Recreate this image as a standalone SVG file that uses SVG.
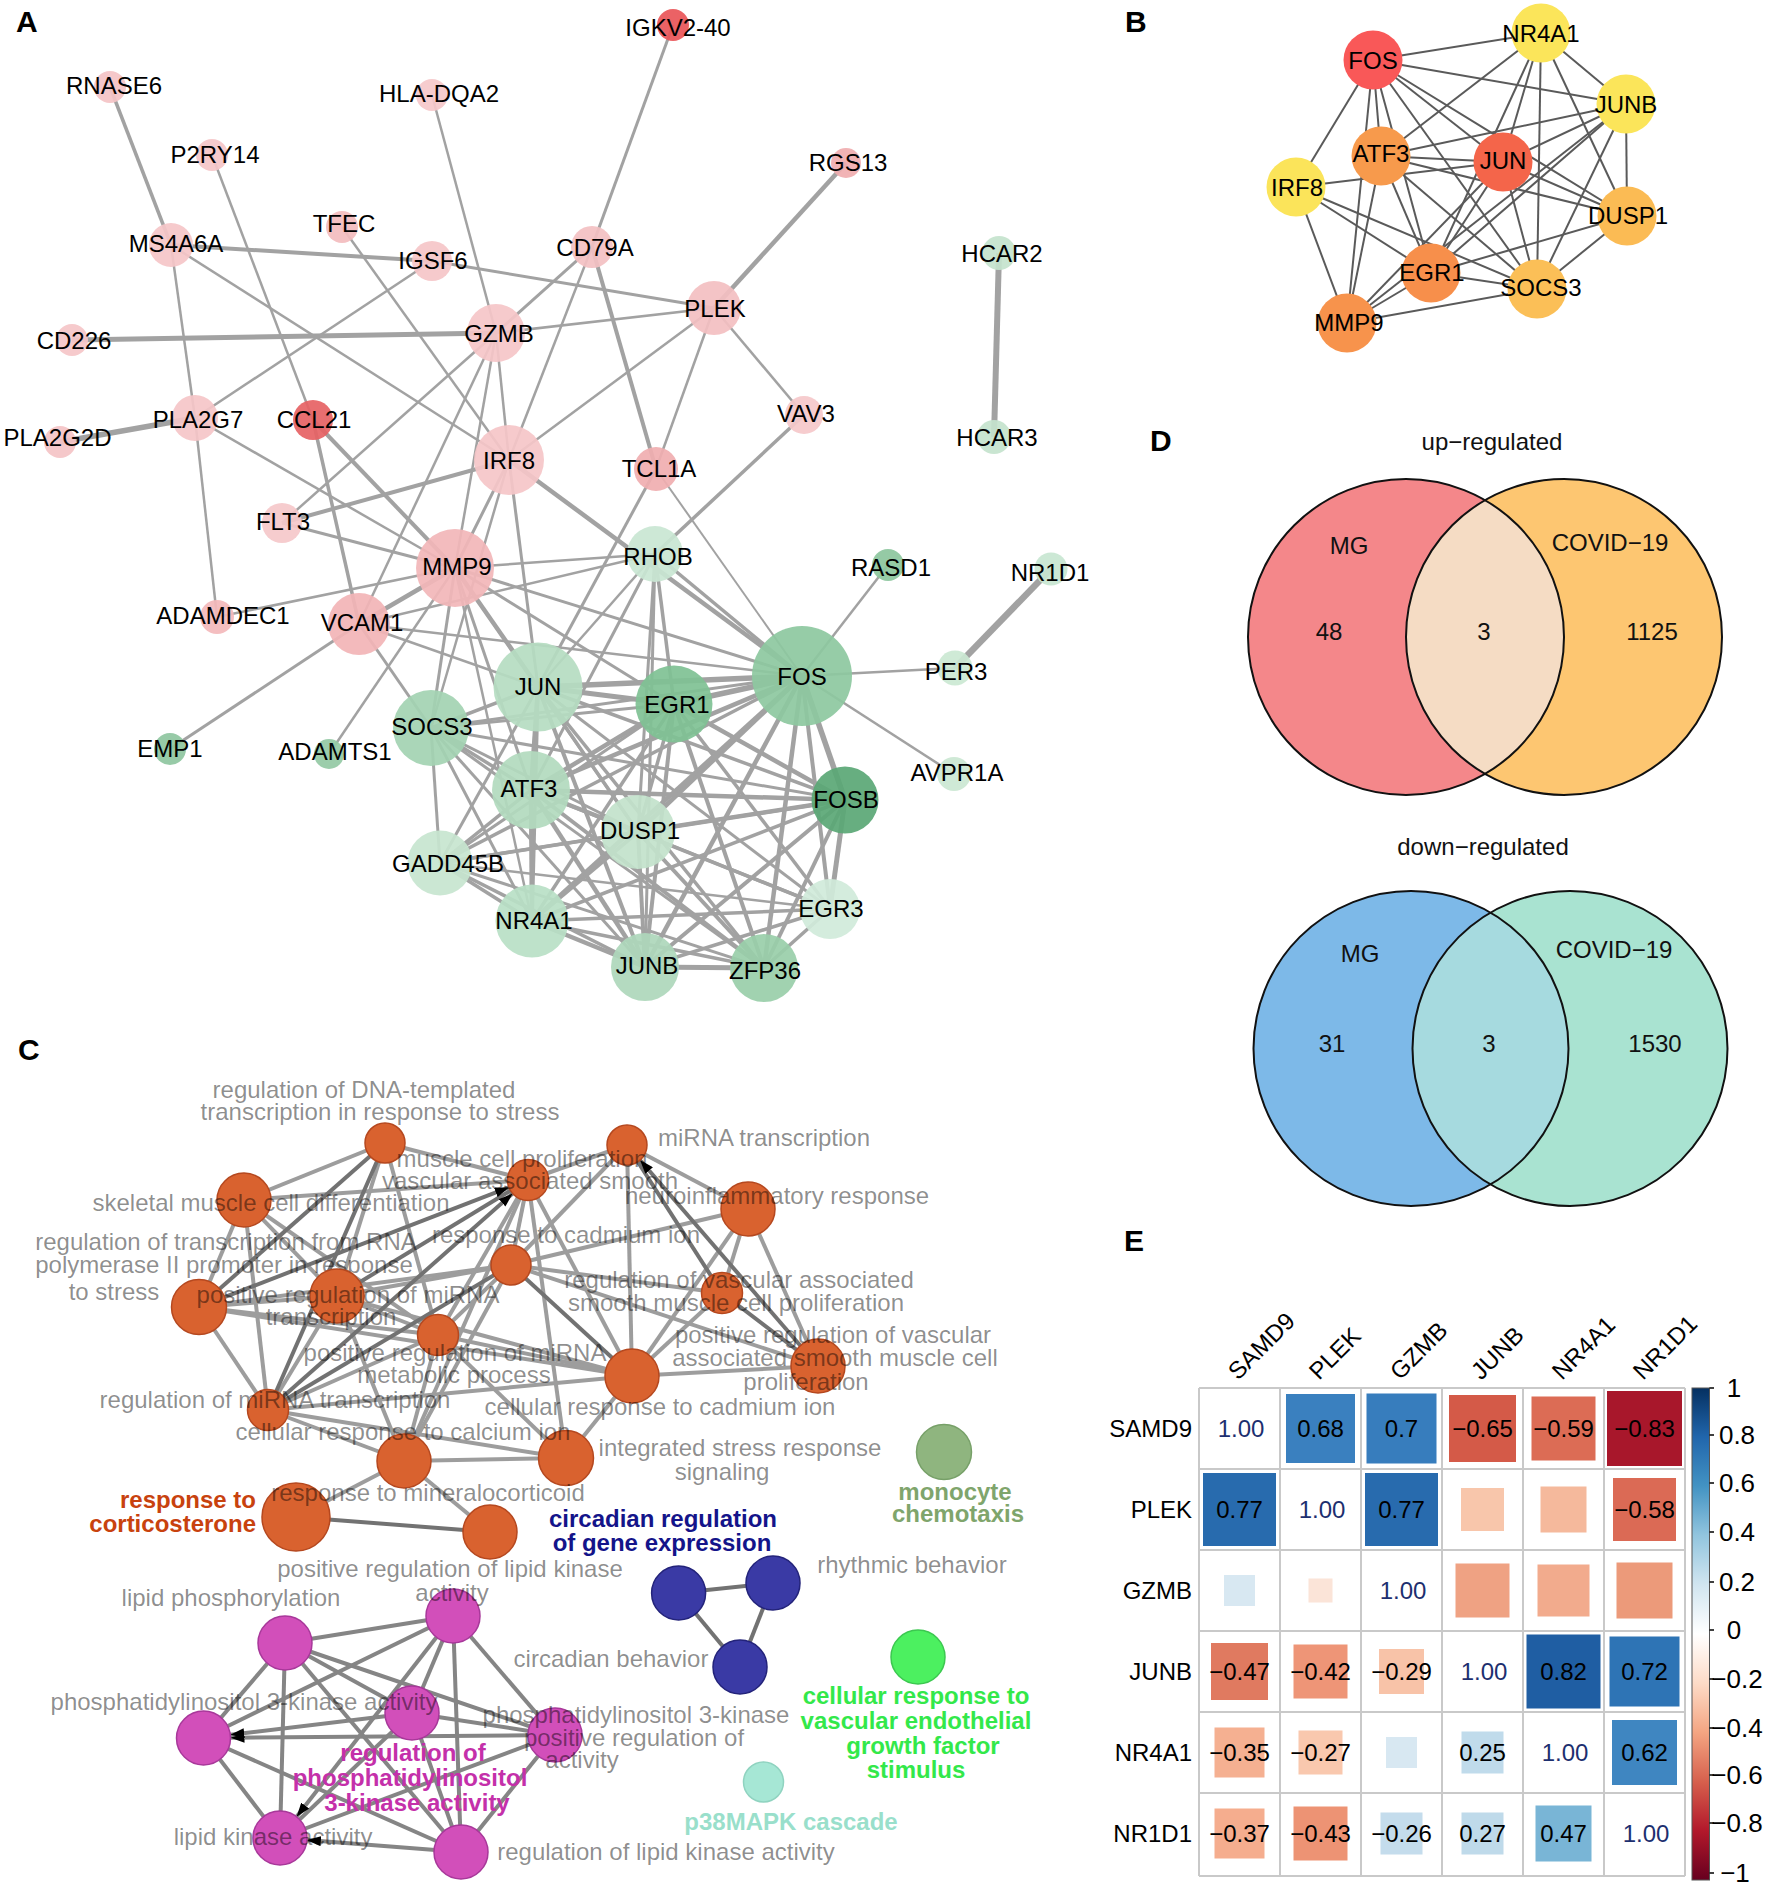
<svg xmlns="http://www.w3.org/2000/svg" width="1768" height="1885" viewBox="0 0 1768 1885">
<defs>
<style>
text{font-family:"Liberation Sans",Arial,Helvetica,sans-serif}
.pl{font-size:30px;font-weight:bold;fill:#000}
.lbl{font-size:24px;fill:#000;text-anchor:middle}
.ea line{stroke:#a2a2a2}
.eb line{stroke:#5a5a5a;stroke-width:2}
.ec line{stroke-width:4}
.ce{stroke:#9d9d9d}
.cd{stroke:#727272}
.cm{stroke:#858585}
.an circle{fill-opacity:0.92}
.cl{font-size:24px;fill:#000;fill-opacity:0.46;text-anchor:middle}
.cb{font-size:24px;font-weight:bold;text-anchor:middle}
.on{fill:#d9622f;stroke:#b5481f;stroke-width:1.5}
.mg{fill:#d24fba;stroke:#a8389a;stroke-width:1.5}
.nv{fill:#3a3aa5;stroke:#23237a;stroke-width:1.5}
.vt{font-size:24px;fill:#111;text-anchor:middle}
.vo{fill:none;stroke:#111;stroke-width:2}
.en{font-size:24px;fill:#000;text-anchor:middle}
.ed{font-size:24px;fill:#1d2f6f;text-anchor:middle}
.rl{font-size:24px;fill:#000;text-anchor:end}
.cll{font-size:24px;fill:#000}
.cbl{font-size:26px;fill:#000;text-anchor:middle}
.grid line{stroke:#c9c9c9;stroke-width:2}
</style>
<marker id="arr" markerUnits="userSpaceOnUse" markerWidth="14" markerHeight="10" refX="14" refY="5" orient="auto"><path d="M0,0 L14,5 L0,10 z" fill="#000"/></marker>
<clipPath id="clipUpR"><circle cx="1564" cy="637" r="158"/></clipPath>
<clipPath id="clipDnR"><circle cx="1570" cy="1048.5" r="157.5"/></clipPath>
<linearGradient id="cbar" x1="0" y1="0" x2="0" y2="1">
<stop offset="0" stop-color="#053061"/>
<stop offset="0.1" stop-color="#2166ac"/>
<stop offset="0.2" stop-color="#4393c3"/>
<stop offset="0.3" stop-color="#92c5de"/>
<stop offset="0.4" stop-color="#d1e5f0"/>
<stop offset="0.5" stop-color="#ffffff"/>
<stop offset="0.6" stop-color="#fddbc7"/>
<stop offset="0.7" stop-color="#f4a582"/>
<stop offset="0.8" stop-color="#d6604d"/>
<stop offset="0.9" stop-color="#b2182b"/>
<stop offset="1" stop-color="#67001f"/>
</linearGradient>
</defs>
<rect width="1768" height="1885" fill="#fff"/>

<text class="pl" x="16" y="32">A</text>
<text class="pl" x="1125" y="32">B</text>
<text class="pl" x="18" y="1060">C</text>
<text class="pl" x="1150" y="451">D</text>
<text class="pl" x="1124" y="1251">E</text>

<g id="connectors">
<g class="ea" id="edges-A">
<line x1="110" y1="87" x2="171" y2="245" stroke-width="3.5"/>
<line x1="212" y1="155" x2="313" y2="420" stroke-width="2.5"/>
<line x1="432" y1="95" x2="496" y2="333" stroke-width="2.5"/>
<line x1="342" y1="227" x2="509" y2="460" stroke-width="2.5"/>
<line x1="171" y1="245" x2="432" y2="261" stroke-width="4"/>
<line x1="432" y1="261" x2="714" y2="308" stroke-width="3"/>
<line x1="171" y1="245" x2="509" y2="460" stroke-width="2.5"/>
<line x1="171" y1="245" x2="195" y2="418" stroke-width="2.5"/>
<line x1="432" y1="261" x2="195" y2="418" stroke-width="2.5"/>
<line x1="72" y1="340" x2="496" y2="333" stroke-width="5"/>
<line x1="496" y1="333" x2="592" y2="247" stroke-width="3"/>
<line x1="496" y1="333" x2="714" y2="308" stroke-width="2.5"/>
<line x1="496" y1="333" x2="509" y2="460" stroke-width="2.5"/>
<line x1="496" y1="333" x2="455" y2="568" stroke-width="2.5"/>
<line x1="496" y1="333" x2="282" y2="523" stroke-width="2.5"/>
<line x1="496" y1="333" x2="359" y2="624" stroke-width="2.5"/>
<line x1="592" y1="247" x2="509" y2="460" stroke-width="2.5"/>
<line x1="592" y1="247" x2="656" y2="469" stroke-width="4"/>
<line x1="673" y1="25" x2="592" y2="247" stroke-width="3"/>
<line x1="714" y1="308" x2="509" y2="460" stroke-width="2.5"/>
<line x1="714" y1="308" x2="656" y2="469" stroke-width="2.5"/>
<line x1="714" y1="308" x2="804" y2="415" stroke-width="2.5"/>
<line x1="846" y1="163" x2="714" y2="308" stroke-width="4.5"/>
<line x1="999" y1="253" x2="994" y2="437" stroke-width="6"/>
<line x1="804" y1="415" x2="655" y2="554" stroke-width="3.5"/>
<line x1="195" y1="418" x2="60" y2="442" stroke-width="5.5"/>
<line x1="195" y1="418" x2="217" y2="617" stroke-width="2.5"/>
<line x1="195" y1="418" x2="455" y2="568" stroke-width="2.5"/>
<line x1="313" y1="420" x2="359" y2="624" stroke-width="3.5"/>
<line x1="313" y1="420" x2="455" y2="568" stroke-width="4"/>
<line x1="282" y1="523" x2="509" y2="460" stroke-width="4"/>
<line x1="282" y1="523" x2="455" y2="568" stroke-width="3"/>
<line x1="217" y1="617" x2="455" y2="568" stroke-width="2.5"/>
<line x1="359" y1="624" x2="455" y2="568" stroke-width="4.5"/>
<line x1="359" y1="624" x2="170" y2="749" stroke-width="3"/>
<line x1="359" y1="624" x2="431" y2="728" stroke-width="3"/>
<line x1="359" y1="624" x2="538" y2="687" stroke-width="2.5"/>
<line x1="359" y1="624" x2="802" y2="676" stroke-width="2.5"/>
<line x1="359" y1="624" x2="655" y2="554" stroke-width="2.5"/>
<line x1="455" y1="568" x2="329" y2="754" stroke-width="2.5"/>
<line x1="509" y1="460" x2="455" y2="568" stroke-width="3"/>
<line x1="509" y1="460" x2="538" y2="687" stroke-width="3"/>
<line x1="509" y1="460" x2="802" y2="676" stroke-width="4.5"/>
<line x1="509" y1="460" x2="431" y2="728" stroke-width="2.5"/>
<line x1="656" y1="469" x2="538" y2="687" stroke-width="3"/>
<line x1="656" y1="469" x2="802" y2="676" stroke-width="2"/>
<line x1="802" y1="676" x2="888" y2="565" stroke-width="2.5"/>
<line x1="802" y1="676" x2="955" y2="668" stroke-width="2.5"/>
<line x1="802" y1="676" x2="954" y2="774" stroke-width="2.5"/>
<line x1="955" y1="668" x2="1051" y2="569" stroke-width="6.5"/>
<line x1="455" y1="568" x2="538" y2="687" stroke-width="4.5"/>
<line x1="455" y1="568" x2="674" y2="704" stroke-width="3"/>
<line x1="455" y1="568" x2="531" y2="790" stroke-width="3"/>
<line x1="455" y1="568" x2="431" y2="728" stroke-width="3"/>
<line x1="455" y1="568" x2="638" y2="832" stroke-width="3"/>
<line x1="455" y1="568" x2="655" y2="554" stroke-width="2.5"/>
<line x1="455" y1="568" x2="802" y2="676" stroke-width="3"/>
<line x1="455" y1="568" x2="532" y2="921" stroke-width="2.5"/>
<line x1="538" y1="687" x2="674" y2="704" stroke-width="5"/>
<line x1="538" y1="687" x2="802" y2="676" stroke-width="5.5"/>
<line x1="538" y1="687" x2="431" y2="728" stroke-width="3.5"/>
<line x1="538" y1="687" x2="531" y2="790" stroke-width="4.5"/>
<line x1="538" y1="687" x2="638" y2="832" stroke-width="3.5"/>
<line x1="538" y1="687" x2="845" y2="800" stroke-width="3.5"/>
<line x1="538" y1="687" x2="440" y2="863" stroke-width="3"/>
<line x1="538" y1="687" x2="532" y2="921" stroke-width="3.5"/>
<line x1="538" y1="687" x2="645" y2="967" stroke-width="4"/>
<line x1="538" y1="687" x2="764" y2="968" stroke-width="3.5"/>
<line x1="538" y1="687" x2="830" y2="909" stroke-width="3"/>
<line x1="538" y1="687" x2="655" y2="554" stroke-width="2.5"/>
<line x1="674" y1="704" x2="802" y2="676" stroke-width="5.5"/>
<line x1="674" y1="704" x2="431" y2="728" stroke-width="3"/>
<line x1="674" y1="704" x2="531" y2="790" stroke-width="4.5"/>
<line x1="674" y1="704" x2="638" y2="832" stroke-width="3.5"/>
<line x1="674" y1="704" x2="845" y2="800" stroke-width="4.5"/>
<line x1="674" y1="704" x2="440" y2="863" stroke-width="3"/>
<line x1="674" y1="704" x2="532" y2="921" stroke-width="3.5"/>
<line x1="674" y1="704" x2="645" y2="967" stroke-width="4"/>
<line x1="674" y1="704" x2="764" y2="968" stroke-width="4"/>
<line x1="674" y1="704" x2="830" y2="909" stroke-width="3.5"/>
<line x1="674" y1="704" x2="655" y2="554" stroke-width="3.5"/>
<line x1="802" y1="676" x2="431" y2="728" stroke-width="3"/>
<line x1="802" y1="676" x2="531" y2="790" stroke-width="4.5"/>
<line x1="802" y1="676" x2="638" y2="832" stroke-width="4.5"/>
<line x1="802" y1="676" x2="845" y2="800" stroke-width="5.5"/>
<line x1="802" y1="676" x2="440" y2="863" stroke-width="3.5"/>
<line x1="802" y1="676" x2="532" y2="921" stroke-width="4.5"/>
<line x1="802" y1="676" x2="645" y2="967" stroke-width="4.5"/>
<line x1="802" y1="676" x2="764" y2="968" stroke-width="4.5"/>
<line x1="802" y1="676" x2="830" y2="909" stroke-width="4"/>
<line x1="802" y1="676" x2="655" y2="554" stroke-width="3.5"/>
<line x1="431" y1="728" x2="531" y2="790" stroke-width="3.5"/>
<line x1="431" y1="728" x2="638" y2="832" stroke-width="3"/>
<line x1="431" y1="728" x2="440" y2="863" stroke-width="3"/>
<line x1="431" y1="728" x2="532" y2="921" stroke-width="3"/>
<line x1="431" y1="728" x2="645" y2="967" stroke-width="3"/>
<line x1="431" y1="728" x2="764" y2="968" stroke-width="3"/>
<line x1="431" y1="728" x2="845" y2="800" stroke-width="3"/>
<line x1="531" y1="790" x2="638" y2="832" stroke-width="4.5"/>
<line x1="531" y1="790" x2="845" y2="800" stroke-width="4.5"/>
<line x1="531" y1="790" x2="440" y2="863" stroke-width="3.5"/>
<line x1="531" y1="790" x2="532" y2="921" stroke-width="4.5"/>
<line x1="531" y1="790" x2="645" y2="967" stroke-width="4.5"/>
<line x1="531" y1="790" x2="764" y2="968" stroke-width="4"/>
<line x1="531" y1="790" x2="830" y2="909" stroke-width="3.5"/>
<line x1="531" y1="790" x2="655" y2="554" stroke-width="3"/>
<line x1="638" y1="832" x2="845" y2="800" stroke-width="4.5"/>
<line x1="638" y1="832" x2="440" y2="863" stroke-width="3.5"/>
<line x1="638" y1="832" x2="532" y2="921" stroke-width="4"/>
<line x1="638" y1="832" x2="645" y2="967" stroke-width="4"/>
<line x1="638" y1="832" x2="764" y2="968" stroke-width="4"/>
<line x1="638" y1="832" x2="830" y2="909" stroke-width="3.5"/>
<line x1="638" y1="832" x2="655" y2="554" stroke-width="3"/>
<line x1="845" y1="800" x2="440" y2="863" stroke-width="3.5"/>
<line x1="845" y1="800" x2="532" y2="921" stroke-width="3.5"/>
<line x1="845" y1="800" x2="645" y2="967" stroke-width="4"/>
<line x1="845" y1="800" x2="764" y2="968" stroke-width="4"/>
<line x1="845" y1="800" x2="830" y2="909" stroke-width="5"/>
<line x1="440" y1="863" x2="532" y2="921" stroke-width="3.5"/>
<line x1="440" y1="863" x2="645" y2="967" stroke-width="3.5"/>
<line x1="440" y1="863" x2="764" y2="968" stroke-width="3"/>
<line x1="440" y1="863" x2="830" y2="909" stroke-width="2.5"/>
<line x1="532" y1="921" x2="645" y2="967" stroke-width="4.5"/>
<line x1="532" y1="921" x2="764" y2="968" stroke-width="3.5"/>
<line x1="532" y1="921" x2="830" y2="909" stroke-width="3.5"/>
<line x1="645" y1="967" x2="764" y2="968" stroke-width="5"/>
<line x1="645" y1="967" x2="830" y2="909" stroke-width="3.5"/>
<line x1="764" y1="968" x2="830" y2="909" stroke-width="3.5"/>
<line x1="655" y1="554" x2="645" y2="967" stroke-width="3"/>
</g>
<g class="eb" id="edges-B">
<line x1="1373" y1="60" x2="1541" y2="33"/>
<line x1="1373" y1="60" x2="1626" y2="104"/>
<line x1="1373" y1="60" x2="1296" y2="187"/>
<line x1="1373" y1="60" x2="1381" y2="156"/>
<line x1="1373" y1="60" x2="1347" y2="323"/>
<line x1="1373" y1="60" x2="1431" y2="273"/>
<line x1="1373" y1="60" x2="1537" y2="289"/>
<line x1="1373" y1="60" x2="1627" y2="216"/>
<line x1="1373" y1="60" x2="1503" y2="162"/>
<line x1="1541" y1="33" x2="1381" y2="156"/>
<line x1="1541" y1="33" x2="1503" y2="162"/>
<line x1="1541" y1="33" x2="1431" y2="273"/>
<line x1="1541" y1="33" x2="1537" y2="289"/>
<line x1="1541" y1="33" x2="1627" y2="216"/>
<line x1="1541" y1="33" x2="1626" y2="104"/>
<line x1="1626" y1="104" x2="1381" y2="156"/>
<line x1="1626" y1="104" x2="1503" y2="162"/>
<line x1="1626" y1="104" x2="1627" y2="216"/>
<line x1="1626" y1="104" x2="1537" y2="289"/>
<line x1="1626" y1="104" x2="1431" y2="273"/>
<line x1="1626" y1="104" x2="1347" y2="323"/>
<line x1="1296" y1="187" x2="1503" y2="162"/>
<line x1="1296" y1="187" x2="1431" y2="273"/>
<line x1="1296" y1="187" x2="1537" y2="289"/>
<line x1="1296" y1="187" x2="1347" y2="323"/>
<line x1="1381" y1="156" x2="1503" y2="162"/>
<line x1="1381" y1="156" x2="1627" y2="216"/>
<line x1="1381" y1="156" x2="1431" y2="273"/>
<line x1="1381" y1="156" x2="1537" y2="289"/>
<line x1="1381" y1="156" x2="1347" y2="323"/>
<line x1="1503" y1="162" x2="1627" y2="216"/>
<line x1="1503" y1="162" x2="1537" y2="289"/>
<line x1="1503" y1="162" x2="1431" y2="273"/>
<line x1="1503" y1="162" x2="1347" y2="323"/>
<line x1="1627" y1="216" x2="1431" y2="273"/>
<line x1="1627" y1="216" x2="1537" y2="289"/>
<line x1="1431" y1="273" x2="1537" y2="289"/>
<line x1="1431" y1="273" x2="1347" y2="323"/>
<line x1="1537" y1="289" x2="1347" y2="323"/>
</g>
<g class="ec" id="edges-C">
<line class="ce" x1="385" y1="1143" x2="244" y2="1200"/>
<line class="ce" x1="385" y1="1143" x2="528" y2="1180"/>
<line class="ce" x1="385" y1="1143" x2="337" y2="1296"/>
<line class="ce" x1="385" y1="1143" x2="438" y2="1335"/>
<line class="ce" x1="244" y1="1200" x2="528" y2="1180"/>
<line class="ce" x1="244" y1="1200" x2="199" y2="1307"/>
<line class="ce" x1="244" y1="1200" x2="337" y2="1296"/>
<line class="ce" x1="244" y1="1200" x2="438" y2="1335"/>
<line class="ce" x1="244" y1="1200" x2="268" y2="1410"/>
<line class="ce" x1="199" y1="1307" x2="337" y2="1296"/>
<line class="ce" x1="199" y1="1307" x2="511" y2="1265"/>
<line class="ce" x1="199" y1="1307" x2="438" y2="1335"/>
<line class="ce" x1="199" y1="1307" x2="268" y2="1410"/>
<line class="ce" x1="199" y1="1307" x2="632" y2="1376"/>
<line class="ce" x1="337" y1="1296" x2="511" y2="1265"/>
<line class="ce" x1="337" y1="1296" x2="438" y2="1335"/>
<line class="ce" x1="337" y1="1296" x2="268" y2="1410"/>
<line class="ce" x1="337" y1="1296" x2="404" y2="1461"/>
<line class="ce" x1="337" y1="1296" x2="632" y2="1376"/>
<line class="ce" x1="268" y1="1410" x2="438" y2="1335"/>
<line class="ce" x1="268" y1="1410" x2="404" y2="1461"/>
<line class="ce" x1="268" y1="1410" x2="632" y2="1376"/>
<line class="ce" x1="268" y1="1410" x2="566" y2="1458"/>
<line class="ce" x1="404" y1="1461" x2="566" y2="1458" stroke-width="5"/>
<line class="ce" x1="404" y1="1461" x2="296" y2="1517"/>
<line class="ce" x1="404" y1="1461" x2="490" y2="1532"/>
<line class="ce" x1="404" y1="1461" x2="511" y2="1265"/>
<line class="ce" x1="404" y1="1461" x2="438" y2="1335"/>
<line class="ce" x1="404" y1="1461" x2="528" y2="1180"/>
<line class="ce" x1="528" y1="1180" x2="627" y2="1145"/>
<line class="ce" x1="528" y1="1180" x2="511" y2="1265"/>
<line class="ce" x1="528" y1="1180" x2="438" y2="1335"/>
<line class="ce" x1="528" y1="1180" x2="632" y2="1376"/>
<line class="ce" x1="528" y1="1180" x2="566" y2="1458"/>
<line class="ce" x1="627" y1="1145" x2="748" y2="1209"/>
<line class="ce" x1="627" y1="1145" x2="632" y2="1376"/>
<line class="ce" x1="627" y1="1145" x2="511" y2="1265"/>
<line class="ce" x1="748" y1="1209" x2="511" y2="1265"/>
<line class="ce" x1="748" y1="1209" x2="722" y2="1293"/>
<line class="ce" x1="748" y1="1209" x2="632" y2="1376"/>
<line class="ce" x1="748" y1="1209" x2="818" y2="1366"/>
<line class="ce" x1="511" y1="1265" x2="722" y2="1293"/>
<line class="ce" x1="511" y1="1265" x2="818" y2="1366"/>
<line class="ce" x1="722" y1="1293" x2="632" y2="1376"/>
<line class="ce" x1="632" y1="1376" x2="818" y2="1366"/>
<line class="ce" x1="632" y1="1376" x2="566" y2="1458"/>
<line class="ce" x1="632" y1="1376" x2="438" y2="1335"/>
<line class="ce" x1="438" y1="1335" x2="566" y2="1458"/>
<line class="ce" x1="511" y1="1265" x2="438" y2="1335"/>
<line class="cd" x1="385" y1="1143" x2="199" y2="1307"/>
<line class="cd" x1="385" y1="1143" x2="268" y2="1410"/>
<line class="cd" x1="337" y1="1296" x2="528" y2="1180"/>
<line class="cd" x1="268" y1="1410" x2="511" y2="1265"/>
<line class="cd" x1="722" y1="1293" x2="627" y2="1145"/>
<line class="cd" x1="511" y1="1265" x2="632" y2="1376"/>
<line class="cd" x1="722" y1="1293" x2="818" y2="1366"/>
<line class="cd" x1="296" y1="1517" x2="490" y2="1532" stroke-width="5"/>
<line class="cd" x1="268" y1="1410" x2="512.6" y2="1193.6" marker-end="url(#arr)"/>
<line class="cd" x1="199" y1="1307" x2="508.9" y2="1187.4" marker-end="url(#arr)"/>
<line class="cd" x1="818" y1="1366" x2="640" y2="1160" marker-end="url(#arr)"/>
<line class="cm" x1="285" y1="1643" x2="453" y2="1616"/>
<line class="cm" x1="285" y1="1643" x2="203.5" y2="1738"/>
<line class="cm" x1="285" y1="1643" x2="280" y2="1838"/>
<line class="cm" x1="285" y1="1643" x2="412" y2="1713"/>
<line class="cm" x1="285" y1="1643" x2="555" y2="1735"/>
<line class="cm" x1="285" y1="1643" x2="461" y2="1852"/>
<line class="cm" x1="453" y1="1616" x2="203.5" y2="1738"/>
<line class="cm" x1="453" y1="1616" x2="412" y2="1713"/>
<line class="cm" x1="453" y1="1616" x2="555" y2="1735"/>
<line class="cm" x1="453" y1="1616" x2="461" y2="1852"/>
<line class="cm" x1="203.5" y1="1738" x2="280" y2="1838"/>
<line class="cm" x1="203.5" y1="1738" x2="461" y2="1852"/>
<line class="cm" x1="412" y1="1713" x2="555" y2="1735"/>
<line class="cm" x1="412" y1="1713" x2="280" y2="1838"/>
<line class="cm" x1="412" y1="1713" x2="461" y2="1852"/>
<line class="cm" x1="555" y1="1735" x2="280" y2="1838"/>
<line class="cm" x1="555" y1="1735" x2="461" y2="1852"/>
<line class="cm" x1="555" y1="1735" x2="230.5" y2="1737.8" marker-end="url(#arr)"/>
<line class="cm" x1="412" y1="1713" x2="230.3" y2="1734.8" marker-end="url(#arr)"/>
<line class="cm" x1="453" y1="1616" x2="296.6" y2="1816.7" stroke-width="2.5" marker-end="url(#arr)"/>
<line class="cm" x1="461" y1="1852" x2="306.9" y2="1840.1" marker-end="url(#arr)"/>
<line class="cd" x1="678.6" y1="1593" x2="773" y2="1583" stroke-width="4.5"/>
<line class="cd" x1="678.6" y1="1593" x2="740" y2="1667"/>
<line class="cd" x1="773" y1="1583" x2="740" y2="1667"/>
</g>
</g>

<g id="nodes-A" class="an">
<g id="a-IGKV2-40"><circle cx="673" cy="25" r="16" fill="#e95558"/><text class="lbl" x="678" y="35.5">IGKV2-40</text></g>
<g id="a-RNASE6"><circle cx="110" cy="87" r="16" fill="#f4c3c5"/><text class="lbl" x="114" y="93.5">RNASE6</text></g>
<g id="a-HLA-DQA2"><circle cx="432" cy="95" r="16" fill="#f5c8ca"/><text class="lbl" x="439" y="101.5">HLA-DQA2</text></g>
<g id="a-P2RY14"><circle cx="212" cy="155" r="16" fill="#f5c6c8"/><text class="lbl" x="215" y="162.5">P2RY14</text></g>
<g id="a-RGS13"><circle cx="846" cy="163" r="15" fill="#f0acaf"/><text class="lbl" x="848" y="170.5">RGS13</text></g>
<g id="a-TFEC"><circle cx="342" cy="227" r="16" fill="#f3bcbe"/><text class="lbl" x="344" y="231.5">TFEC</text></g>
<g id="a-MS4A6A"><circle cx="171" cy="245" r="22" fill="#f5c6c8"/><text class="lbl" x="176" y="251.5">MS4A6A</text></g>
<g id="a-IGSF6"><circle cx="432" cy="261" r="20" fill="#f5c6c8"/><text class="lbl" x="433" y="268.5">IGSF6</text></g>
<g id="a-CD79A"><circle cx="592" cy="247" r="21" fill="#f3c0c2"/><text class="lbl" x="595" y="255.5">CD79A</text></g>
<g id="a-HCAR2"><circle cx="999" cy="253" r="17" fill="#c4e3cd"/><text class="lbl" x="1002" y="261.5">HCAR2</text></g>
<g id="a-PLEK"><circle cx="714" cy="308" r="27" fill="#f3bfc1"/><text class="lbl" x="715" y="316.5">PLEK</text></g>
<g id="a-GZMB"><circle cx="496" cy="333" r="29" fill="#f5c6c8"/><text class="lbl" x="499" y="341.5">GZMB</text></g>
<g id="a-CD226"><circle cx="72" cy="340" r="16" fill="#f5c6c8"/><text class="lbl" x="74" y="348.5">CD226</text></g>
<g id="a-PLA2G7"><circle cx="195" cy="418" r="23" fill="#f5c6c8"/><text class="lbl" x="198" y="427.5">PLA2G7</text></g>
<g id="a-CCL21"><circle cx="313" cy="420" r="20" fill="#e66264"/><text class="lbl" x="314" y="427.5">CCL21</text></g>
<g id="a-PLA2G2D"><circle cx="60" cy="442" r="16" fill="#f4c3c5"/><text class="lbl" x="57.5" y="445.5">PLA2G2D</text></g>
<g id="a-VAV3"><circle cx="804" cy="415" r="19" fill="#f5c8ca"/><text class="lbl" x="806" y="421.5">VAV3</text></g>
<g id="a-HCAR3"><circle cx="994" cy="437" r="17" fill="#c4e3cd"/><text class="lbl" x="997" y="445.5">HCAR3</text></g>
<g id="a-IRF8"><circle cx="509" cy="460" r="35" fill="#f5c6c8"/><text class="lbl" x="509" y="468.5">IRF8</text></g>
<g id="a-TCL1A"><circle cx="656" cy="469" r="22" fill="#f0aeb0"/><text class="lbl" x="659" y="476.5">TCL1A</text></g>
<g id="a-FLT3"><circle cx="282" cy="523" r="20" fill="#f5c8ca"/><text class="lbl" x="283" y="529.5">FLT3</text></g>
<g id="a-MMP9"><circle cx="455" cy="568" r="39" fill="#f2b6b8"/><text class="lbl" x="457" y="574.5">MMP9</text></g>
<g id="a-ADAMDEC1"><circle cx="217" cy="617" r="17" fill="#f3b9bb"/><text class="lbl" x="223" y="623.5">ADAMDEC1</text></g>
<g id="a-VCAM1"><circle cx="359" cy="624" r="31" fill="#f2b4b6"/><text class="lbl" x="362" y="630.5">VCAM1</text></g>
<g id="a-RHOB"><circle cx="655" cy="554" r="28" fill="#c9e6d2"/><text class="lbl" x="658" y="564.5">RHOB</text></g>
<g id="a-RASD1"><circle cx="888" cy="565" r="16" fill="#8cc59d"/><text class="lbl" x="891" y="575.5">RASD1</text></g>
<g id="a-NR1D1"><circle cx="1051" cy="569" r="16.5" fill="#c8e6d1"/><text class="lbl" x="1050" y="580.5">NR1D1</text></g>
<g id="a-PER3"><circle cx="955" cy="668" r="17.5" fill="#cbe8d3"/><text class="lbl" x="956" y="679.5">PER3</text></g>
<g id="a-AVPR1A"><circle cx="954" cy="774" r="17" fill="#cbe7d3"/><text class="lbl" x="957" y="780.5">AVPR1A</text></g>
<g id="a-EMP1"><circle cx="170" cy="749" r="16" fill="#8ec69f"/><text class="lbl" x="170" y="756.5">EMP1</text></g>
<g id="a-ADAMTS1"><circle cx="329" cy="754" r="15" fill="#94c9a4"/><text class="lbl" x="335" y="759.5">ADAMTS1</text></g>
<g id="a-FOS"><circle cx="802" cy="676" r="50" fill="#8dc8a0"/><text class="lbl" x="802" y="684.5">FOS</text></g>
<g id="a-JUN"><circle cx="538" cy="687" r="44.5" fill="#b5dcc1"/><text class="lbl" x="538" y="694.5">JUN</text></g>
<g id="a-EGR1"><circle cx="674" cy="704" r="38.5" fill="#7fc194"/><text class="lbl" x="677" y="712.5">EGR1</text></g>
<g id="a-SOCS3"><circle cx="431" cy="728" r="38" fill="#a3d3b2"/><text class="lbl" x="432" y="734.5">SOCS3</text></g>
<g id="a-ATF3"><circle cx="531" cy="790" r="39" fill="#b2dabe"/><text class="lbl" x="529" y="796.5">ATF3</text></g>
<g id="a-FOSB"><circle cx="845" cy="800" r="33.5" fill="#5aa775"/><text class="lbl" x="846" y="807.5">FOSB</text></g>
<g id="a-DUSP1"><circle cx="638" cy="832" r="37" fill="#c2e2cb"/><text class="lbl" x="640" y="838.5">DUSP1</text></g>
<g id="a-GADD45B"><circle cx="440" cy="863" r="32.5" fill="#c7e5cf"/><text class="lbl" x="448" y="871.5">GADD45B</text></g>
<g id="a-EGR3"><circle cx="830" cy="909" r="30" fill="#d0eada"/><text class="lbl" x="831" y="916.5">EGR3</text></g>
<g id="a-NR4A1"><circle cx="532" cy="921" r="36.5" fill="#b9dfc5"/><text class="lbl" x="534" y="928.5">NR4A1</text></g>
<g id="a-JUNB"><circle cx="645" cy="967" r="34" fill="#aed7bb"/><text class="lbl" x="647" y="973.5">JUNB</text></g>
<g id="a-ZFP36"><circle cx="764" cy="968" r="34" fill="#99cea9"/><text class="lbl" x="765" y="978.5">ZFP36</text></g>
</g>

<g id="nodes-B">
<g id="b-FOS"><circle cx="1373" cy="60" r="29.5" fill="#f95858"/><text class="lbl" x="1373" y="68.5">FOS</text></g>
<g id="b-NR4A1"><circle cx="1541" cy="33" r="29.5" fill="#fbe55a"/><text class="lbl" x="1541" y="41.5">NR4A1</text></g>
<g id="b-JUNB"><circle cx="1626" cy="104" r="29.5" fill="#fbe55a"/><text class="lbl" x="1626" y="112.5">JUNB</text></g>
<g id="b-ATF3"><circle cx="1381" cy="156" r="29.5" fill="#f79a4c"/><text class="lbl" x="1381" y="161.5">ATF3</text></g>
<g id="b-JUN"><circle cx="1503" cy="162" r="29.5" fill="#f4654a"/><text class="lbl" x="1503" y="168.5">JUN</text></g>
<g id="b-IRF8"><circle cx="1296" cy="187" r="29.5" fill="#fbe45a"/><text class="lbl" x="1297" y="195.5">IRF8</text></g>
<g id="b-DUSP1"><circle cx="1627" cy="216" r="29.5" fill="#fbbb54"/><text class="lbl" x="1628" y="223.5">DUSP1</text></g>
<g id="b-EGR1"><circle cx="1431" cy="273" r="29.5" fill="#f78f4b"/><text class="lbl" x="1432" y="280.5">EGR1</text></g>
<g id="b-SOCS3"><circle cx="1537" cy="289" r="29.5" fill="#fbbf57"/><text class="lbl" x="1541" y="295.5">SOCS3</text></g>
<g id="b-MMP9"><circle cx="1347" cy="323" r="29.5" fill="#f7934c"/><text class="lbl" x="1349" y="330.5">MMP9</text></g>
</g>

<g id="nodes-C">
<g id="c-dna"><circle class="on" cx="385" cy="1143" r="20"/><text class="cl" x="364" y="1098">regulation of DNA-templated</text><text class="cl" x="380" y="1120">transcription in response to stress</text></g>
<g id="c-mirna-tx"><circle class="on" cx="627" cy="1145" r="20"/><text class="cl" x="764" y="1146">miRNA transcription</text></g>
<g id="c-skeletal"><circle class="on" cx="244" cy="1200" r="27"/><text class="cl" x="271" y="1211">skeletal muscle cell differentiation</text></g>
<g id="c-muscle"><circle class="on" cx="528" cy="1180" r="20.5"/><text class="cl" x="522" y="1167">muscle cell proliferation</text><text class="cl" x="530" y="1189">vascular associated smooth</text></g>
<g id="c-neuro"><circle class="on" cx="748" cy="1209" r="27"/><text class="cl" x="777" y="1204">neuroinflammatory response</text></g>
<g id="c-rnapol"><circle class="on" cx="199" cy="1307" r="27.5"/><text class="cl" x="226" y="1250">regulation of transcription from RNA</text><text class="cl" x="224" y="1273">polymerase II promoter in response</text><text class="cl" x="114" y="1300">to stress</text></g>
<g id="c-cadmium"><circle class="on" cx="511" cy="1265" r="20"/><text class="cl" x="566" y="1243">response to cadmium ion</text></g>
<g id="c-posmirna"><circle class="on" cx="337" cy="1296" r="27"/><text class="cl" x="348" y="1303">positive regulation of miRNA</text><text class="cl" x="331" y="1325">transcription</text></g>
<g id="c-vascreg"><circle class="on" cx="722" cy="1293" r="20.5"/><text class="cl" x="739" y="1288">regulation of vascular associated</text><text class="cl" x="736" y="1311">smooth muscle cell proliferation</text></g>
<g id="c-metab"><circle class="on" cx="438" cy="1335" r="20.5"/><text class="cl" x="455" y="1361">positive regulation of miRNA</text><text class="cl" x="454" y="1383">metabolic process</text></g>
<g id="c-posvasc"><circle class="on" cx="818" cy="1366" r="27"/><text class="cl" x="833" y="1343">positive regulation of vascular</text><text class="cl" x="835" y="1366">associated smooth muscle cell</text><text class="cl" x="806" y="1390">proliferation</text></g>
<g id="c-regmirna"><circle class="on" cx="268" cy="1410" r="20.5"/><text class="cl" x="275" y="1408">regulation of miRNA transcription</text></g>
<g id="c-cellcad"><circle class="on" cx="632" cy="1376" r="27"/><text class="cl" x="660" y="1415">cellular response to cadmium ion</text></g>
<g id="c-integrated"><circle class="on" cx="566" cy="1458" r="27.5"/><text class="cl" x="740" y="1456">integrated stress response</text><text class="cl" x="722" y="1480">signaling</text></g>
<g id="c-calcium"><circle class="on" cx="404" cy="1461" r="27"/><text class="cl" x="403" y="1440">cellular response to calcium ion</text></g>
<g id="c-cortico"><circle class="on" cx="296" cy="1517" r="34"/><text class="cb" fill="#c8420e" x="256" y="1508" style="text-anchor:end">response to</text><text class="cb" fill="#c8420e" x="256" y="1532" style="text-anchor:end">corticosterone</text></g>
<g id="c-mineral"><circle class="on" cx="490" cy="1532" r="27"/><text class="cl" x="428" y="1501">response to mineralocorticoid</text></g>
<g id="c-monocyte"><circle cx="944" cy="1452" r="27.5" fill="#8fb57f" stroke="#77a068" stroke-width="1.5"/><text class="cb" fill="#7fa56c" x="955" y="1500">monocyte</text><text class="cb" fill="#7fa56c" x="958" y="1522">chemotaxis</text></g>
<g id="c-lipidphos"><circle class="mg" cx="285" cy="1643" r="27"/><text class="cl" x="231" y="1606">lipid phosphorylation</text></g>
<g id="c-poslipid"><circle class="mg" cx="453" cy="1616" r="27"/><text class="cl" x="450" y="1577">positive regulation of lipid kinase</text><text class="cl" x="452" y="1601">activity</text></g>
<g id="c-regpi3k"><circle class="mg" cx="412" cy="1713" r="27"/><text class="cb" fill="#c430aa" x="413" y="1761">regulation of</text><text class="cb" fill="#c430aa" x="410" y="1786">phosphatidylinositol</text><text class="cb" fill="#c430aa" x="417" y="1811">3-kinase activity</text></g>
<g id="c-pi3k"><circle class="mg" cx="203.5" cy="1738" r="27"/><text class="cl" x="244" y="1710">phosphatidylinositol 3-kinase activity</text></g>
<g id="c-pospi3k"><circle class="mg" cx="555" cy="1735" r="27"/><text class="cl" x="636" y="1723">phosphatidylinositol 3-kinase</text><text class="cl" x="634" y="1746">positive regulation of</text><text class="cl" x="582" y="1768">activity</text></g>
<g id="c-lipidkin"><circle class="mg" cx="280" cy="1838" r="27"/><text class="cl" x="273" y="1845">lipid kinase activity</text></g>
<g id="c-reglipid"><circle class="mg" cx="461" cy="1852" r="27"/><text class="cl" x="666" y="1860">regulation of lipid kinase activity</text></g>
<g id="c-circreg"><circle class="nv" cx="678.6" cy="1593" r="27"/><text class="cb" fill="#14148a" x="663" y="1527">circadian regulation</text><text class="cb" fill="#14148a" x="662" y="1551">of gene expression</text></g>
<g id="c-rhythmic"><circle class="nv" cx="773" cy="1583" r="27"/><text class="cl" x="912" y="1573">rhythmic behavior</text></g>
<g id="c-circbeh"><circle class="nv" cx="740" cy="1667" r="27"/><text class="cl" x="611" y="1667">circadian behavior</text></g>
<g id="c-vegf"><circle cx="918" cy="1657" r="27" fill="#4cf060" stroke="#3cc850" stroke-width="1.5"/><text class="cb" fill="#33e84a" x="916" y="1704">cellular response to</text><text class="cb" fill="#33e84a" x="916" y="1729">vascular endothelial</text><text class="cb" fill="#33e84a" x="923" y="1754">growth factor</text><text class="cb" fill="#33e84a" x="916" y="1778">stimulus</text></g>
<g id="c-p38"><circle cx="763.5" cy="1782" r="20" fill="#a6e7d5" stroke="#90d3c0" stroke-width="1.5"/><text class="cb" fill="#99dfcb" x="791" y="1830">p38MAPK cascade</text></g>
</g>

<g id="panel-D">
<text class="vt" x="1492" y="450">up−regulated</text>
<circle cx="1406" cy="637" r="158" fill="#f4878a"/>
<circle cx="1564" cy="637" r="158" fill="#fdc671"/>
<circle cx="1406" cy="637" r="158" fill="#f5dcc4" clip-path="url(#clipUpR)"/>
<circle class="vo" cx="1406" cy="637" r="158"/>
<circle class="vo" cx="1564" cy="637" r="158"/>
<text class="vt" x="1349" y="554">MG</text>
<text class="vt" x="1610" y="551">COVID−19</text>
<text class="vt" x="1329" y="640">48</text>
<text class="vt" x="1484" y="640">3</text>
<text class="vt" x="1652" y="640">1125</text>
<text class="vt" x="1483" y="855">down−regulated</text>
<circle cx="1411" cy="1048.5" r="157.5" fill="#7db9e8"/>
<circle cx="1570" cy="1048.5" r="157.5" fill="#a9e3d1"/>
<circle cx="1411" cy="1048.5" r="157.5" fill="#a6dadf" clip-path="url(#clipDnR)"/>
<circle class="vo" cx="1411" cy="1048.5" r="157.5"/>
<circle class="vo" cx="1570" cy="1048.5" r="157.5"/>
<text class="vt" x="1360" y="962">MG</text>
<text class="vt" x="1614" y="958">COVID−19</text>
<text class="vt" x="1332" y="1052">31</text>
<text class="vt" x="1489" y="1052">3</text>
<text class="vt" x="1655" y="1052">1530</text>
</g>

<g id="panel-E">
<g class="grid">
<line x1="1199" y1="1388" x2="1199" y2="1876"/>
<line x1="1280" y1="1388" x2="1280" y2="1876"/>
<line x1="1361" y1="1388" x2="1361" y2="1876"/>
<line x1="1442" y1="1388" x2="1442" y2="1876"/>
<line x1="1523" y1="1388" x2="1523" y2="1876"/>
<line x1="1604" y1="1388" x2="1604" y2="1876"/>
<line x1="1685" y1="1388" x2="1685" y2="1876"/>
<line x1="1199" y1="1388" x2="1685" y2="1388"/>
<line x1="1199" y1="1469" x2="1685" y2="1469"/>
<line x1="1199" y1="1550" x2="1685" y2="1550"/>
<line x1="1199" y1="1631" x2="1685" y2="1631"/>
<line x1="1199" y1="1712" x2="1685" y2="1712"/>
<line x1="1199" y1="1793" x2="1685" y2="1793"/>
<line x1="1199" y1="1876" x2="1685" y2="1876"/>
</g>
<g id="squares">
<rect x="1286" y="1394" width="69" height="69" fill="#3a80bf"/>
<rect x="1366.5" y="1393.5" width="70" height="70" fill="#377dbd"/>
<rect x="1449" y="1395" width="67" height="67" fill="#d45a48"/>
<rect x="1531.5" y="1396.5" width="64" height="64" fill="#dc6c55"/>
<rect x="1607" y="1391" width="75" height="75" fill="#a8172b"/>
<rect x="1203" y="1473" width="73" height="73" fill="#286bae"/>
<rect x="1365" y="1473" width="73" height="73" fill="#286bae"/>
<rect x="1461" y="1488" width="43" height="43" fill="#f8c6ab"/>
<rect x="1540.5" y="1486.5" width="46" height="46" fill="#f5b99c"/>
<rect x="1613" y="1478" width="63" height="63" fill="#db6a55"/>
<rect x="1224" y="1575" width="31" height="31" fill="#d8e8f2"/>
<rect x="1308.5" y="1578.5" width="24" height="24" fill="#fbe4d8"/>
<rect x="1455.5" y="1563.5" width="54" height="54" fill="#efa283"/>
<rect x="1537.5" y="1564.5" width="52" height="52" fill="#f2ab8d"/>
<rect x="1616.5" y="1562.5" width="56" height="56" fill="#ec9a7a"/>
<rect x="1211" y="1643" width="57" height="57" fill="#e07a60"/>
<rect x="1293.5" y="1644.5" width="54" height="54" fill="#ee9577"/>
<rect x="1379" y="1649" width="45" height="45" fill="#f8c3a8"/>
<rect x="1526.5" y="1634.5" width="74" height="74" fill="#1f5ea3"/>
<rect x="1609.5" y="1636.5" width="70" height="70" fill="#2e74b5"/>
<rect x="1214.5" y="1727.5" width="50" height="50" fill="#f5b091"/>
<rect x="1298.5" y="1730.5" width="44" height="44" fill="#f9c8ae"/>
<rect x="1386" y="1737" width="31" height="31" fill="#d8e8f2"/>
<rect x="1461.5" y="1731.5" width="42" height="42" fill="#c0dbeb"/>
<rect x="1612" y="1720" width="65" height="65" fill="#3f86c1"/>
<rect x="1214.5" y="1808.5" width="50" height="50" fill="#f5ad8e"/>
<rect x="1293.5" y="1806.5" width="54" height="54" fill="#ed9374"/>
<rect x="1380.5" y="1812.5" width="42" height="42" fill="#c4dcec"/>
<rect x="1461.5" y="1812.5" width="42" height="42" fill="#bfdaea"/>
<rect x="1535.5" y="1805.5" width="56" height="56" fill="#79b5d6"/>
</g>
<g id="values">
<text class="ed" x="1241" y="1437">1.00</text>
<text class="en" x="1320.5" y="1437">0.68</text>
<text class="en" x="1401.5" y="1437">0.7</text>
<text class="en" x="1482.5" y="1437">−0.65</text>
<text class="en" x="1563.5" y="1437">−0.59</text>
<text class="en" x="1644.5" y="1437">−0.83</text>
<text class="en" x="1239.5" y="1518">0.77</text>
<text class="ed" x="1322" y="1518">1.00</text>
<text class="en" x="1401.5" y="1518">0.77</text>
<text class="en" x="1644.5" y="1518">−0.58</text>
<text class="ed" x="1403" y="1599">1.00</text>
<text class="en" x="1239.5" y="1680">−0.47</text>
<text class="en" x="1320.5" y="1680">−0.42</text>
<text class="en" x="1401.5" y="1680">−0.29</text>
<text class="ed" x="1484" y="1680">1.00</text>
<text class="en" x="1563.5" y="1680">0.82</text>
<text class="en" x="1644.5" y="1680">0.72</text>
<text class="en" x="1239.5" y="1761">−0.35</text>
<text class="en" x="1320.5" y="1761">−0.27</text>
<text class="en" x="1482.5" y="1761">0.25</text>
<text class="ed" x="1565" y="1761">1.00</text>
<text class="en" x="1644.5" y="1761">0.62</text>
<text class="en" x="1239.5" y="1842">−0.37</text>
<text class="en" x="1320.5" y="1842">−0.43</text>
<text class="en" x="1401.5" y="1842">−0.26</text>
<text class="en" x="1482.5" y="1842">0.27</text>
<text class="en" x="1563.5" y="1842">0.47</text>
<text class="ed" x="1646" y="1842">1.00</text>
</g>
<g id="row-labels">
<text class="rl" x="1192" y="1437">SAMD9</text>
<text class="rl" x="1192" y="1518">PLEK</text>
<text class="rl" x="1192" y="1599">GZMB</text>
<text class="rl" x="1192" y="1680">JUNB</text>
<text class="rl" x="1192" y="1761">NR4A1</text>
<text class="rl" x="1192" y="1842">NR1D1</text>
</g>
<g id="col-labels">
<text class="cll" transform="translate(1238,1381) rotate(-45)">SAMD9</text>
<text class="cll" transform="translate(1319,1381) rotate(-45)">PLEK</text>
<text class="cll" transform="translate(1400,1381) rotate(-45)">GZMB</text>
<text class="cll" transform="translate(1481,1381) rotate(-45)">JUNB</text>
<text class="cll" transform="translate(1562,1381) rotate(-45)">NR4A1</text>
<text class="cll" transform="translate(1643,1381) rotate(-45)">NR1D1</text>
</g>
<g id="colorbar">
<rect x="1692" y="1388" width="17.5" height="492" fill="url(#cbar)" stroke="#555" stroke-width="1"/>
<g stroke="#000" stroke-width="1.5">
<line x1="1709.5" y1="1388" x2="1714" y2="1388"/>
<line x1="1709.5" y1="1435" x2="1714" y2="1435"/>
<line x1="1709.5" y1="1483" x2="1714" y2="1483"/>
<line x1="1709.5" y1="1532" x2="1714" y2="1532"/>
<line x1="1709.5" y1="1582" x2="1714" y2="1582"/>
<line x1="1709.5" y1="1630" x2="1714" y2="1630"/>
<line x1="1709.5" y1="1679" x2="1714" y2="1679"/>
<line x1="1709.5" y1="1728" x2="1714" y2="1728"/>
<line x1="1709.5" y1="1775" x2="1714" y2="1775"/>
<line x1="1709.5" y1="1823" x2="1714" y2="1823"/>
<line x1="1709.5" y1="1873" x2="1714" y2="1873"/>
</g>
<text class="cbl" x="1734" y="1397">1</text>
<text class="cbl" x="1737" y="1444">0.8</text>
<text class="cbl" x="1737" y="1492">0.6</text>
<text class="cbl" x="1737" y="1541">0.4</text>
<text class="cbl" x="1737" y="1591">0.2</text>
<text class="cbl" x="1734" y="1639">0</text>
<text class="cbl" x="1737" y="1688">−0.2</text>
<text class="cbl" x="1737" y="1737">−0.4</text>
<text class="cbl" x="1737" y="1784">−0.6</text>
<text class="cbl" x="1737" y="1832">−0.8</text>
<text class="cbl" x="1735" y="1882">−1</text>
</g>
</g>
</svg>
